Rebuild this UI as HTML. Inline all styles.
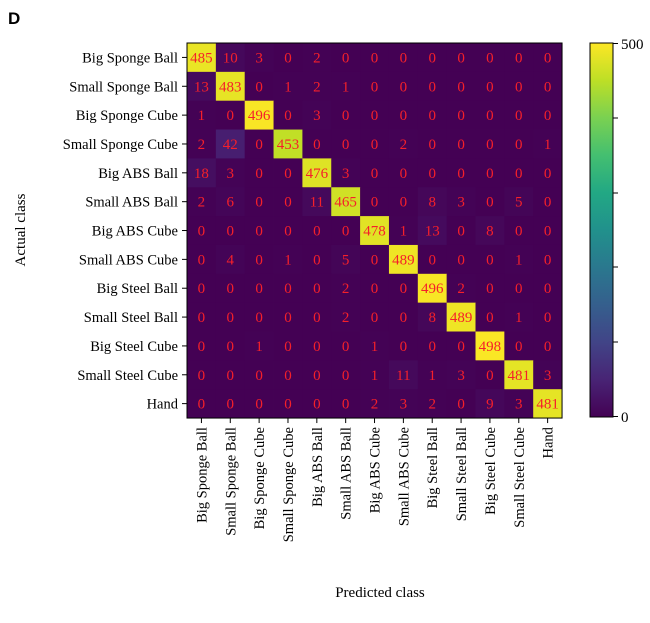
<!DOCTYPE html>
<html><head><meta charset="utf-8"><style>
html,body{margin:0;padding:0;background:#fff;}
svg{display:block;font-family:"Liberation Serif",serif;}
</style></head><body>
<svg id="s" width="650" height="623" xmlns="http://www.w3.org/2000/svg">
<defs><linearGradient id="g" x1="0" y1="1" x2="0" y2="0">
<stop offset="0" stop-color="#440154"/><stop offset="0.1" stop-color="#482475"/>
<stop offset="0.2" stop-color="#414487"/><stop offset="0.3" stop-color="#355f8d"/>
<stop offset="0.4" stop-color="#2a788e"/><stop offset="0.5" stop-color="#21918c"/>
<stop offset="0.6" stop-color="#22a884"/><stop offset="0.7" stop-color="#44bf70"/>
<stop offset="0.8" stop-color="#7ad151"/><stop offset="0.9" stop-color="#bddf26"/>
<stop offset="1" stop-color="#fde725"/></linearGradient></defs>
<text x="8" y="24" font-family="Liberation Sans,sans-serif" font-weight="bold" font-size="17">D</text>
<text x="380" y="597" font-size="15" text-anchor="middle">Predicted class</text>
<text transform="translate(25,230) rotate(-90)" font-size="15" text-anchor="middle">Actual class</text>
<rect x="590" y="43" width="23" height="374" fill="url(#g)" stroke="#000" stroke-width="1"/>
<g stroke="#000" stroke-width="1">
<line x1="613" y1="43.5" x2="618" y2="43.5"/><line x1="613" y1="118" x2="618" y2="118"/>
<line x1="613" y1="193" x2="618" y2="193"/><line x1="613" y1="267" x2="618" y2="267"/>
<line x1="613" y1="342" x2="618" y2="342"/><line x1="613" y1="416.5" x2="618" y2="416.5"/></g>
<text x="621" y="49" font-size="15">500</text>
<text x="621" y="422" font-size="15">0</text>
<g id="m"></g>
</svg>
<script>
const L=["Big Sponge Ball","Small Sponge Ball","Big Sponge Cube","Small Sponge Cube","Big ABS Ball","Small ABS Ball","Big ABS Cube","Small ABS Cube","Big Steel Ball","Small Steel Ball","Big Steel Cube","Small Steel Cube","Hand"];
const D=[[485,10,3,0,2,0,0,0,0,0,0,0,0],[13,483,0,1,2,1,0,0,0,0,0,0,0],[1,0,496,0,3,0,0,0,0,0,0,0,0],[2,42,0,453,0,0,0,2,0,0,0,0,1],[18,3,0,0,476,3,0,0,0,0,0,0,0],[2,6,0,0,11,465,0,0,8,3,0,5,0],[0,0,0,0,0,0,478,1,13,0,8,0,0],[0,4,0,1,0,5,0,489,0,0,0,1,0],[0,0,0,0,0,2,0,0,496,2,0,0,0],[0,0,0,0,0,2,0,0,8,489,0,1,0],[0,0,1,0,0,0,1,0,0,0,498,0,0],[0,0,0,0,0,0,1,11,1,3,0,481,3],[0,0,0,0,0,0,2,3,2,0,9,3,481]];
const V=[[68,1,84],[72,36,117],[65,68,135],[53,95,141],[42,120,142],[33,145,140],[34,168,132],[68,191,112],[122,209,81],[189,223,38],[253,231,37]];
function col(t){t=Math.max(0,Math.min(1,t))*10;const i=Math.min(9,Math.floor(t)),f=t-i;const a=V[i],b=V[i+1];return`rgb(${a.map((v,k)=>Math.round(v+(b[k]-v)*f)).join(",")})`;}
const x0=187,y0=43,c=28.85;let h="";
for(let r=0;r<13;r++)for(let k=0;k<13;k++){const v=D[r][k];h+=`<rect x="${x0+k*c}" y="${y0+r*c}" width="${c+0.4}" height="${c+0.4}" fill="${col(v/500)}"/>`;h+=`<text x="${x0+k*c+c/2}" y="${y0+r*c+c/2+5}" text-anchor="middle" font-size="15" fill="#f5202a">${v}</text>`;}
h+=`<rect x="${x0}" y="${y0}" width="${13*c}" height="${13*c}" fill="none" stroke="#000" stroke-width="1"/>`;
for(let i=0;i<13;i++){const y=y0+i*c+c/2,x=x0+i*c+c/2;
h+=`<line x1="${x0-5}" y1="${y}" x2="${x0}" y2="${y}" stroke="#000"/>`;
h+=`<text x="${x0-9}" y="${y+5}" text-anchor="end" font-size="14.5">${L[i]}</text>`;
h+=`<line x1="${x}" y1="${y0+13*c}" x2="${x}" y2="${y0+13*c+5}" stroke="#000"/>`;
h+=`<text transform="translate(${x+5},${y0+13*c+9}) rotate(-90)" text-anchor="end" font-size="14.5">${L[i]}</text>`;}
document.getElementById("m").innerHTML=h;
</script>
</body></html>
